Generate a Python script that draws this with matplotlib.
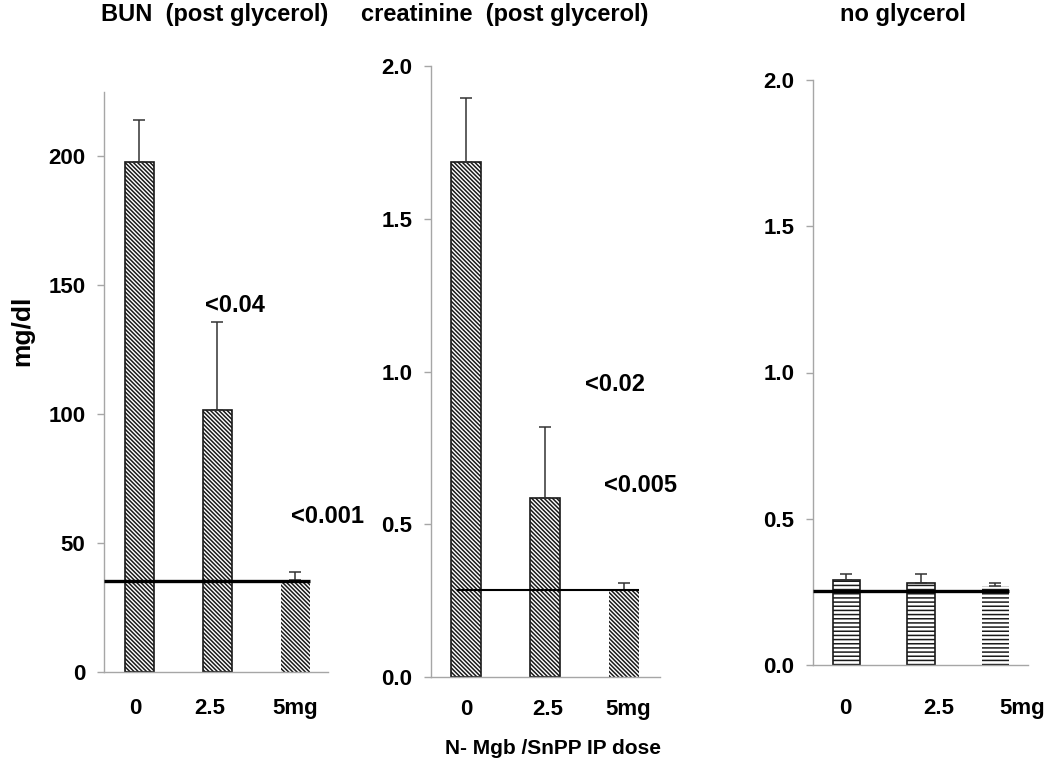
import matplotlib
matplotlib.use("Agg")
import matplotlib.pyplot as plt

plt.rcParams['font.family'] = ['Liberation Sans', 'DejaVu Sans']
plt.rcParams['font.weight'] = 'bold'
plt.rcParams['hatch.linewidth'] = 1.1

# data
doses = ["0", "2.5", "5mg"]
bun = [198, 101.6, 35.5]
bun_err = [16.3, 34.1, 3.3]
bun_ref = 35.2
creat = [1.685, 0.585, 0.284]
creat_err = [0.21, 0.232, 0.023]
creat_ref = 0.284
noglyc = [0.29, 0.28, 0.27]
noglyc_err = [0.021, 0.031, 0.01]
noglyc_ref = 0.253

titles = ["BUN  (post glycerol)", "creatinine  (post glycerol)", "no glycerol"]

fig = plt.figure(figsize=(10.5, 7.62), dpi=100)
W, H = 1050, 762


def px_axes(left, right, top, bottom):
    return fig.add_axes([left / W, 1 - bottom / H, (right - left) / W, (bottom - top) / H])


ax1 = px_axes(104, 328, 92, 672)
ax2 = px_axes(431, 660, 66, 677)
ax3 = px_axes(813, 1028, 80, 665)

x = [0, 1, 2]
w = 0.37
spine_col = '#a6a6a6'


def panel(ax, vals, errs, ref, hatch, ylim, yticks, ytl, xlim, ref_start, ref_lw, pad, label_pos):
    ax.bar(x, vals, width=w, color='white', edgecolor='#1a1a1a',
           linewidth=[1.2, 1.2, 0], hatch=hatch, zorder=2)
    ax.errorbar(x, vals, yerr=[[0, 0, 0], errs], fmt='none', ecolor='#333333',
                elinewidth=1.1, capsize=4, capthick=1.1, zorder=3)
    ax.hlines(ref, ref_start, 2 + w / 2, color='black', linewidth=ref_lw, zorder=4)
    ax.set_xlim(*xlim)
    ax.set_ylim(*ylim)
    ax.set_yticks(yticks)
    ax.set_yticklabels(ytl, fontsize=16, fontweight='bold')
    ax.set_xticks(label_pos)
    ax.set_xticklabels(doses, fontsize=16, fontweight='bold')
    for s in ['top', 'right']:
        ax.spines[s].set_visible(False)
    for s in ['left', 'bottom']:
        ax.spines[s].set_color(spine_col)
        ax.spines[s].set_linewidth(1.0)
    ax.tick_params(axis='y', direction='out', length=5, width=1.0, color=spine_col, pad=8.5)
    ax.tick_params(axis='x', length=0, pad=pad)
    ax.patch.set_alpha(0)


diag = '\\' * 8
panel(ax1, bun, bun_err, bun_ref, diag, (0, 225), [0, 50, 100, 150, 200],
      ["0", "50", "100", "150", "200"], (-0.455, 2.42), -0.455, 2.4, 19, [-0.05, 0.9, 2.0])
panel(ax2, creat, creat_err, creat_ref, diag, (0, 2.0), [0, 0.5, 1.0, 1.5, 2.0],
      ["0.0", "0.5", "1.0", "1.5", "2.0"], (-0.443, 2.456), -0.11, 1.5, 16, [0.01, 1.03, 2.05])
panel(ax3, noglyc, noglyc_err, noglyc_ref, '----', (0, 2.0), [0, 0.5, 1.0, 1.5, 2.0],
      ["0.0", "0.5", "1.0", "1.5", "2.0"], (-0.45, 2.44), -0.45, 2.4, 24, [-0.02, 1.24, 2.36])

# titles
fig.text(215 / W, 1 - 15 / H, titles[0], fontsize=17, fontweight='bold', ha='center', va='center')
fig.text(505 / W, 1 - 15 / H, titles[1], fontsize=17, fontweight='bold', ha='center', va='center')
fig.text(903 / W, 1 - 15 / H, titles[2], fontsize=17, fontweight='bold', ha='center', va='center')

# p-value annotations
ax1.text(0.84, 142, "<0.04", fontsize=17, fontweight='bold', va='center', clip_on=False)
ax1.text(1.94, 60.5, "<0.001", fontsize=17, fontweight='bold', va='center', clip_on=False)
ax2.text(1.506, 0.957, "<0.02", fontsize=17, fontweight='bold', va='center', clip_on=False)
ax2.text(1.747, 0.627, "<0.005", fontsize=17, fontweight='bold', va='center', clip_on=False)

fig.text(22 / W, 1 - 331 / H, "mg/dl", fontsize=19, fontweight='bold', rotation=90,
         ha='center', va='center')
fig.text(553 / W, 1 - 748 / H, "N- Mgb /SnPP IP dose", fontsize=15, fontweight='bold',
         ha='center', va='center')

fig.savefig("out.png", dpi=100)
